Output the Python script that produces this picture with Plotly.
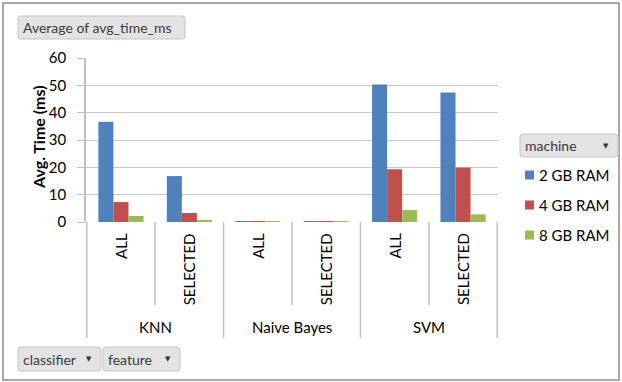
import plotly.graph_objects as go

classifiers = ["KNN", "KNN", "Naive Bayes", "Naive Bayes", "SVM", "SVM"]
features = ["ALL", "SELECTED", "ALL", "SELECTED", "ALL", "SELECTED"]
group_names = ["KNN", "Naive Bayes", "SVM"]
machines = ["2 GB RAM", "4 GB RAM", "8 GB RAM"]
ram2 = [36.7, 16.8, 0.25, 0.25, 50.3, 47.4]
ram4 = [7.3, 3.3, 0.25, 0.25, 19.3, 19.9]
ram8 = [2.2, 0.8, 0.2, 0.2, 4.4, 2.8]
yticks = [0, 10, 20, 30, 40, 50, 60]
colors = ["#4F81BD", "#C0504D", "#9BBB59"]

FONT = "Lato, 'Open Sans', sans-serif"
W, H = 622, 382
L, R, T, B = 86, 124, 58, 160
PW, PH = W - L - R, H - T - B

def px2x(px):
    return (px - L) / PW

def py2y(py):
    return (H - B - py) / PH

cats = [f"{c}|{f}" for c, f in zip(classifiers, features)]

fig = go.Figure()
for i, (name, vals) in enumerate(zip(machines, [ram2, ram4, ram8])):
    fig.add_trace(go.Bar(
        x=cats, y=vals, name=name, marker_color=colors[i],
        marker_line_width=0, showlegend=False,
    ))

shapes = []
annotations = []

# outer frame
shapes.append(dict(type="rect", xref="paper", yref="paper",
                   x0=px2x(3), x1=px2x(619), y0=py2y(380), y1=py2y(3),
                   line=dict(color="#8C8C8C", width=1.5), fillcolor="rgba(0,0,0,0)", layer="below"))

# inner category labels (rotated)
for cat, feat in zip(cats, features):
    annotations.append(dict(x=cat, xref="x", y=py2y(231), yref="paper",
                            text=feat, textangle=-90, showarrow=False,
                            yanchor="top", xanchor="center",
                            font=dict(family=FONT, size=15, color="#000000")))

# dividers between categories
for i in range(len(cats) + 1):
    pos = i - 0.5
    if i == 0 or i == len(cats) or classifiers[i - 1] != classifiers[i]:
        bottom = 338
    else:
        bottom = 305
    shapes.append(dict(type="line", xref="x", yref="paper", x0=pos, x1=pos,
                       y0=py2y(222), y1=py2y(bottom),
                       line=dict(color="#BFBFBF", width=1.5)))

# group labels
for g in group_names:
    idx = [i for i, c in enumerate(classifiers) if c == g]
    center = (idx[0] + idx[-1]) / 2
    annotations.append(dict(x=center, xref="x", y=py2y(327), yref="paper",
                            text=g, showarrow=False, xanchor="center", yanchor="middle",
                            font=dict(family=FONT, size=15, color="#000000")))

# y-axis title
annotations.append(dict(x=px2x(38), xref="paper", y=py2y(137), yref="paper",
                        text="<b>Avg. Time (ms)</b>", textangle=-90, showarrow=False,
                        xanchor="center", yanchor="middle",
                        font=dict(family=FONT, size=16, color="#000000")))

# filter buttons
def rounded(x0, y0, x1, y1, r=3):
    X = lambda v: px2x(v)
    Y = lambda v: py2y(v)
    return (f"M {X(x0 + r)} {Y(y0)} L {X(x1 - r)} {Y(y0)} Q {X(x1)} {Y(y0)} {X(x1)} {Y(y0 + r)} "
            f"L {X(x1)} {Y(y1 - r)} Q {X(x1)} {Y(y1)} {X(x1 - r)} {Y(y1)} "
            f"L {X(x0 + r)} {Y(y1)} Q {X(x0)} {Y(y1)} {X(x0)} {Y(y1 - r)} "
            f"L {X(x0)} {Y(y0 + r)} Q {X(x0)} {Y(y0)} {X(x0 + r)} {Y(y0)} Z")

def button(x0, x1, y0, y1, label, arrow=True):
    shapes.append(dict(type="path", xref="paper", yref="paper",
                       path=rounded(x0, y0, x1, y1),
                       line=dict(color="#C4C4C4", width=1), fillcolor="#E3E3E3"))
    annotations.append(dict(x=px2x(x0 + 3), xref="paper", y=py2y((y0 + y1) / 2), yref="paper",
                            text=label, showarrow=False, xanchor="left", yanchor="middle",
                            font=dict(family=FONT, size=14, color="#3A3A3A")))
    if arrow:
        annotations.append(dict(x=px2x(x1 - 12), xref="paper", y=py2y((y0 + y1) / 2), yref="paper",
                                text="▼", showarrow=False, xanchor="center", yanchor="middle",
                                font=dict(family="DejaVu Sans", size=7, color="#333333")))

button(18, 185, 16, 39, "Average of avg_time_ms", arrow=False)
button(520, 618, 134, 157, "machine")
button(18, 101, 347, 371, "classifier")
button(103, 180, 347, 371, "feature")

# legend (manual)
legend_y = [175, 205, 235]
for name, col, ly in zip(machines, colors, legend_y):
    shapes.append(dict(type="rect", xref="paper", yref="paper",
                       x0=px2x(525), x1=px2x(534), y0=py2y(ly + 4.5), y1=py2y(ly - 4.5),
                       line=dict(width=0), fillcolor=col))
    annotations.append(dict(x=px2x(537), xref="paper", y=py2y(ly), yref="paper",
                            text=name, showarrow=False, xanchor="left", yanchor="middle",
                            font=dict(family=FONT, size=15, color="#000000")))

fig.update_layout(
    width=W, height=H,
    margin=dict(l=L, r=R, t=T, b=B, pad=0),
    paper_bgcolor="white", plot_bgcolor="white",
    barmode="group", bargap=0.34, bargroupgap=0,
    font=dict(family=FONT, size=14, color="#000000"),
    showlegend=False,
    xaxis=dict(type="category", showticklabels=False, showgrid=False,
               showline=False, zeroline=False, ticks=""),
    yaxis=dict(range=[0, 60], tickvals=yticks, showgrid=True, gridcolor="#C8C8C8",
               gridwidth=1, showline=True, linecolor="#BFBFBF", linewidth=1.5,
               ticks="outside", ticklen=7, tickcolor="#BFBFBF", zeroline=False,
               ticklabelstandoff=8,
               tickfont=dict(family=FONT, size=15, color="#000000")),
    shapes=shapes, annotations=annotations,
)

fig.write_html("out.html")
